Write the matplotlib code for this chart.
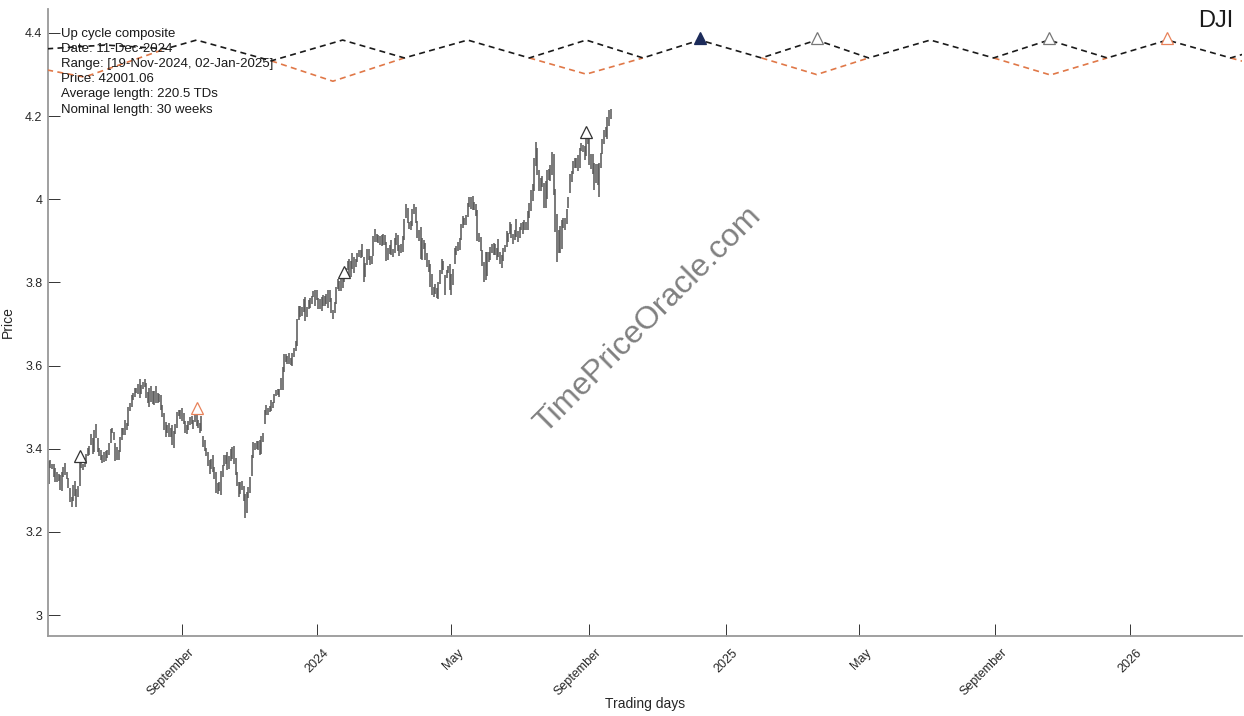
import numpy as np
import matplotlib
matplotlib.use("Agg")
import matplotlib.pyplot as plt
import matplotlib.transforms as mtransforms
from matplotlib.ticker import FuncFormatter

plt.rcParams['font.family'] = ['Liberation Sans', 'DejaVu Sans']

# ---------------- data ----------------
# trading-day index 0 = 1-Sep-2023 ; daily bars from 4-May-2023 to 20-Sep-2024 (price / 10000)
bar_start_index = -83
bar_low = [
    3.300,3.315,3.354,3.352,3.332,3.320,3.320,3.322,3.300,3.299,3.331,3.337,3.326,3.305,3.273,3.259,3.275,3.287,3.259,
    3.283,3.311,3.353,3.349,3.356,3.363,3.383,3.385,3.409,3.388,3.392,3.425,3.391,3.382,3.373,3.365,3.368,3.370,3.378,3.385,3.414,
    3.437,3.421,3.371,3.372,3.372,3.393,3.420,3.432,3.433,3.444,3.455,3.490,3.501,3.516,3.524,3.533,3.531,3.523,3.532,3.544,
    3.548,3.522,3.510,3.500,3.512,3.508,3.505,3.509,3.510,3.512,3.492,3.476,3.445,3.428,3.437,3.427,3.429,3.409,3.402,3.436,3.449,3.478,3.471,
    3.466,3.460,3.437,3.436,3.446,3.458,3.460,3.447,3.464,3.455,3.451,3.437,3.443,3.404,3.395,3.382,3.359,3.340,3.351,3.343,
    3.327,3.294,3.290,3.298,3.288,3.332,3.359,3.363,3.349,3.352,3.370,3.375,3.363,3.337,3.310,3.283,3.292,3.300,3.274,3.233,3.246,3.282,
    3.294,3.334,3.377,3.397,3.399,3.398,3.386,3.387,3.417,3.460,3.482,3.481,3.488,3.490,3.498,3.510,3.526,3.530,3.525,3.542,3.542,
    3.585,3.609,3.604,3.603,3.602,3.600,3.620,3.636,3.648,3.709,3.718,3.720,3.730,3.708,3.716,3.735,3.739,3.748,3.765,3.743,
    3.758,3.736,3.737,3.731,3.744,3.744,3.749,3.739,3.752,3.727,3.712,3.727,3.747,3.785,3.780,3.779,3.787,3.802,3.810,3.830,3.815,
    3.813,3.832,3.822,3.838,3.848,3.860,3.858,3.862,3.800,3.814,3.842,3.855,3.843,3.845,3.864,3.898,3.898,3.895,3.890,3.888,
    3.889,3.891,3.851,3.854,3.869,3.867,3.860,3.870,3.891,3.875,3.863,3.870,3.872,3.901,3.956,3.944,3.928,3.926,3.935,3.965,
    3.942,3.907,3.900,3.857,3.853,3.880,3.855,3.838,3.825,3.790,3.770,3.764,3.772,3.763,3.761,3.796,3.821,3.829,3.770,3.810,3.823,3.781,
    3.770,3.794,3.845,3.866,3.876,3.878,3.902,3.930,3.938,3.938,3.958,3.982,3.976,3.974,3.974,3.960,3.900,3.898,3.876,3.839,3.800,3.806,
    3.815,3.848,3.853,3.870,3.865,3.865,3.855,3.862,3.845,3.835,3.852,3.872,3.885,3.897,3.916,3.907,3.893,3.903,3.910,
    3.897,3.906,3.925,3.917,3.925,3.926,3.927,3.954,3.973,3.997,4.020,4.081,4.059,4.021,4.021,4.030,3.980,3.980,4.001,4.047,4.044,4.058,
    4.011,3.922,3.850,3.871,3.870,3.881,3.932,3.926,3.941,3.980,4.016,4.042,4.062,4.075,4.076,4.067,4.075,4.115,4.113,4.095,4.103,4.132,
    4.082,4.074,4.062,4.022,4.040,4.035,4.005,4.076,4.110,4.133,4.151,4.145,4.177,4.193,
]
bar_high = [
    3.342,3.370,3.372,3.364,3.364,3.353,3.344,3.340,3.336,3.344,3.356,3.365,3.345,3.330,3.305,3.285,3.313,3.322,3.302,
    3.311,3.380,3.376,3.364,3.377,3.387,3.402,3.407,3.436,3.426,3.444,3.459,3.426,3.402,3.397,3.386,3.393,3.395,3.396,3.414,3.447,
    3.450,3.441,3.413,3.404,3.396,3.428,3.450,3.451,3.469,3.463,3.500,3.509,3.530,3.534,3.546,3.547,3.556,3.568,3.554,3.560,
    3.568,3.557,3.537,3.547,3.550,3.540,3.538,3.552,3.535,3.531,3.529,3.504,3.485,3.464,3.456,3.462,3.449,3.458,3.443,3.460,3.488,3.492,3.494,
    3.498,3.486,3.466,3.456,3.467,3.476,3.478,3.468,3.498,3.493,3.470,3.463,3.478,3.430,3.422,3.402,3.392,3.372,3.375,3.385,
    3.357,3.343,3.317,3.320,3.347,3.362,3.386,3.384,3.393,3.382,3.400,3.404,3.406,3.378,3.343,3.319,3.320,3.322,3.311,3.290,3.297,3.307,
    3.331,3.386,3.416,3.413,3.419,3.419,3.420,3.430,3.437,3.493,3.506,3.498,3.503,3.518,3.513,3.531,3.541,3.543,3.543,3.570,3.597,
    3.627,3.627,3.624,3.630,3.619,3.630,3.642,3.658,3.712,3.744,3.743,3.741,3.759,3.766,3.742,3.757,3.762,3.767,3.779,3.781,
    3.781,3.762,3.761,3.766,3.770,3.768,3.773,3.781,3.781,3.763,3.733,3.752,3.788,3.809,3.804,3.809,3.810,3.821,3.835,3.851,3.856,
    3.852,3.870,3.862,3.856,3.870,3.878,3.879,3.893,3.860,3.846,3.880,3.880,3.863,3.864,3.912,3.928,3.917,3.914,3.912,3.913,
    3.916,3.913,3.897,3.883,3.890,3.903,3.880,3.906,3.918,3.913,3.890,3.892,3.912,3.952,3.989,3.979,3.946,3.947,3.977,3.989,
    3.981,3.948,3.925,3.933,3.906,3.902,3.895,3.870,3.855,3.845,3.820,3.790,3.797,3.786,3.801,3.830,3.856,3.851,3.817,3.830,3.840,3.845,
    3.820,3.832,3.883,3.888,3.898,3.907,3.940,3.960,3.956,3.961,3.992,4.005,4.005,4.007,3.993,3.988,3.975,3.920,3.910,3.878,3.848,3.872,
    3.873,3.874,3.885,3.893,3.895,3.893,3.882,3.904,3.873,3.866,3.882,3.890,3.923,3.920,3.946,3.940,3.916,3.925,3.953,
    3.923,3.934,3.942,3.946,3.949,3.946,3.973,3.990,4.023,4.036,4.099,4.138,4.123,4.070,4.052,4.057,4.039,4.045,4.071,4.073,4.083,4.114,
    4.110,4.024,3.964,3.925,3.936,3.949,3.954,3.955,3.977,4.006,4.060,4.069,4.091,4.099,4.100,4.107,4.124,4.135,4.130,4.127,4.150,4.158,
    4.157,4.110,4.110,4.088,4.086,4.084,4.087,4.112,4.144,4.166,4.175,4.198,4.214,4.216,
]

# up cycle composite (black dashed)
cycle_x = [-83, -47, -10, 9, 55, 99, 137, 176, 214, 249, 284, 319, 357, 391, 423, 461, 500, 534, 570, 607, 646, 683]
cycle_y = [4.362, 4.371, 4.362, 4.383, 4.333, 4.383, 4.340, 4.383, 4.340, 4.383, 4.340, 4.383,
           4.340, 4.383, 4.340, 4.383, 4.340, 4.383, 4.340, 4.383, 4.340, 4.383]

# alternative troughs (orange dashed), separate segments
alt_segments_x = [[-83, -60, -10], [55, 93, 137], [214, 249, 284], [357, 391, 423], [500, 535, 570], [646, 683]]
alt_segments_y = [[4.311, 4.294, 4.362], [4.333, 4.284, 4.340], [4.340, 4.301, 4.340],
                  [4.340, 4.300, 4.340], [4.340, 4.299, 4.340], [4.340, 4.300]]

# markers
price_marker_x = [-63, 9, 100, 249]
price_marker_y = [3.382, 3.499, 3.824, 4.161]
price_marker_color = ['#333333', '#e8825a', '#333333', '#333333']

proj_marker_x = [319, 391, 534, 607]
proj_marker_y = [4.387, 4.387, 4.387, 4.387]
proj_marker_edge = ['#1c2b5a', '#777777', '#777777', '#e8825a']
proj_marker_face = ['#1c2b5a', 'white', 'white', 'white']

tick_pos = [0, 83, 166, 251, 335, 417, 501, 584]
tick_labels = ['September', '2024', 'May', 'September', '2025', 'May', 'September', '2026']
y_ticks = [3.0, 3.2, 3.4, 3.6, 3.8, 4.0, 4.2, 4.4]

info_lines = ["Up cycle composite", "Date: 11-Dec-2024", "Range: [19-Nov-2024, 02-Jan-2025]",
              "Price: 42001.06", "Average length: 220.5 TDs", "Nominal length: 30 weeks"]

# ---------------- plot ----------------
W, H = 1244, 716
fig = plt.figure(figsize=(W / 100, H / 100), dpi=100)
ax = fig.add_axes([48 / W, 1 - 636 / H, 1194 / W, 627 / H])

bar_x = np.arange(bar_start_index, bar_start_index + len(bar_low))
ax.vlines(bar_x, bar_low, bar_high, color='#555555', lw=1.1, zorder=2)

for sx, sy in zip(alt_segments_x, alt_segments_y):
    ax.plot(sx, sy, color='#e07848', lw=1.2, dashes=(3.6, 2.6), zorder=3)
ax.plot(cycle_x, cycle_y, color='#1a1a1a', lw=1.2, dashes=(3.6, 2.6), zorder=4)

for x, y, c in zip(price_marker_x, price_marker_y, price_marker_color):
    ax.plot([x], [y], marker='^', ms=8, mfc='white', mec=c, mew=0.9, zorder=5)
for x, y, ec, fc in zip(proj_marker_x, proj_marker_y, proj_marker_edge, proj_marker_face):
    ax.plot([x], [y], marker='^', ms=8, mfc=fc, mec=ec, mew=0.9, zorder=5)

ax.set_xlim(-82.5, 653.0)
ax.set_ylim(2.9495, 4.4577)

ax.set_yticks(y_ticks)
ax.yaxis.set_major_formatter(FuncFormatter(lambda v, p: f"{v:g}"))
ax.set_xticks(tick_pos)
ax.set_xticklabels([])

ax.tick_params(axis='both', direction='in', length=8.5, width=0.7, color='#333333',
               labelsize=9, labelcolor='#262626')
ax.tick_params(axis='y', pad=4)

# rotated x tick labels drawn as text anchored under each tick
blend = mtransforms.blended_transform_factory(ax.transData, ax.transAxes)
shift = mtransforms.ScaledTranslation(0.06, -0.105, fig.dpi_scale_trans)
for pos, lab in zip(tick_pos, tick_labels):
    ax.text(pos, 0, lab, transform=blend + shift, rotation=45, ha='right', va='top',
            rotation_mode='anchor', fontsize=9, color='#262626', clip_on=False)

for s in ['top', 'right']:
    ax.spines[s].set_visible(False)
for s in ['left', 'bottom']:
    ax.spines[s].set_color('#999999')
    ax.spines[s].set_linewidth(1.3)

ax.set_ylabel('Price', fontsize=10, color='#262626')
ax.set_xlabel('Trading days', fontsize=10, color='#262626')
ax.yaxis.set_label_coords((15 - 48) / 1194, 0.5)
ax.xaxis.set_label_coords(0.5, -(704 - 636) / 627)
ax.xaxis.label.set_va('center')

for i, line in enumerate(info_lines):
    fig.text(61 / W, 1 - (34.5 + 15 * i) / H, line, fontsize=9.5, color='#1a1a1a', ha='left', va='center')

fig.text(1216 / W, 1 - 21 / H, 'DJI', fontsize=17, color='#1a1a1a', ha='center', va='center')

fig.text(648 / W, 1 - 320 / H, 'TimePriceOracle.com', fontsize=23, color='#808080',
         rotation=45, ha='center', va='center', rotation_mode='anchor')

fig.savefig('out.png', dpi=100)
